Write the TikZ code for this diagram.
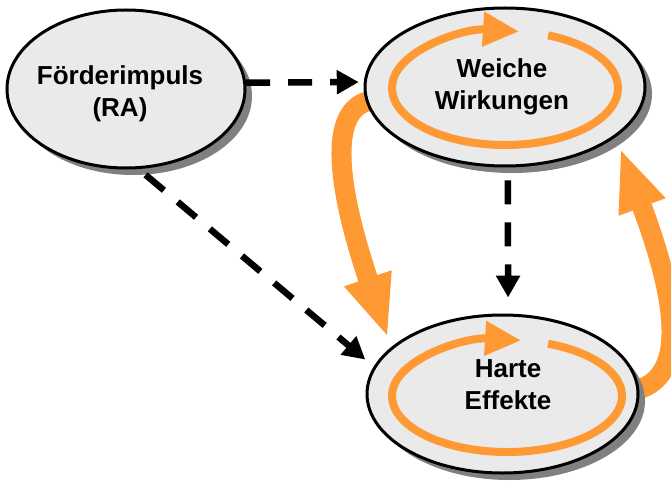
\documentclass[tikz,border=0pt]{standalone}
\usepackage{fontspec}
\setmainfont{Liberation Sans}
\usetikzlibrary{arrows.meta,shapes.geometric,shadows,calc,backgrounds}
\definecolor{flow}{RGB}{255,153,51}
\definecolor{bubblefill}{RGB}{234,234,234}
\definecolor{bubbleshadow}{RGB}{128,128,128}
\begin{document}
\begin{tikzpicture}[x=1pt,y=1pt,
  bubble/.style={ellipse, draw=black, line width=3pt, fill=bubblefill,
    minimum height=158pt, inner sep=0pt,
    drop shadow={shadow xshift=7pt, shadow yshift=-7pt, fill=bubbleshadow, opacity=1}},
  caption/.style={font=\fontsize{26}{32}\selectfont\bfseries, align=center, inner sep=0pt},
  dasharrow/.style={draw=black, line width=6.5pt, dash pattern=on 24pt off 18pt,
    -{Triangle[length=22pt,width=23pt]}},
  bigflow/.style={draw=flow, line width=20pt, -{Triangle[length=63pt,width=45pt]}},
  cycleflow/.style={draw=flow, line width=8pt, -{Triangle[length=36pt,width=33pt]}}]

\useasboundingbox (0,0) rectangle (671,-481);

% the three states
\node[bubble, minimum width=238pt] (fi) at (126,-89) {};
\node[bubble, minimum width=280pt] (ww) at (505,-87) {};
\node[bubble, minimum width=271pt] (he) at (502.5,-394) {};

% self-reinforcing cycles inside the states
\draw[cycleflow] ($(ww.center)+(0,-1)$) ++(67.6:113 and 57)
  arc[start angle=67.6, end angle=-277.1, x radius=113, y radius=57];
\draw[cycleflow] ($(he.center)+(4.5,-2)$) ++(69.1:115 and 56)
  arc[start angle=69.1, end angle=-277, x radius=115, y radius=56];

% labels
\node[caption] (fit) at (120,-94) {Förderimpuls\\(RA)};
\node[caption] (wwt) at (502,-87) {Weiche\\Wirkungen};
\node[caption] (het) at (508,-384.5) {Harte\\Effekte};

% dashed influences
\draw[dasharrow] (fi.3.4) -- (ww.178) [shorten >=5pt];
\draw[dasharrow, shorten <=9pt, shorten >=11pt] (fi.-81.3) -- (he.168);
\draw[dasharrow, shorten <=13pt, shorten >=16pt] (ww.-88) -- (he.86);

% mutual feedback between soft and hard effects
\begin{scope}[on background layer]
  \draw[bigflow] ($(ww.west)+(15,-13)$) .. controls +(-55,0) and +(-50,148) ..
    ($(he.center)+(-114.5,56)$);
  \draw[bigflow] ($(he.center)+(112.5,2)$) .. controls +(80,-3) and +(57,-152) ..
    ($(ww.center)+(115,-61)$);
\end{scope}
\end{tikzpicture}
\end{document}
